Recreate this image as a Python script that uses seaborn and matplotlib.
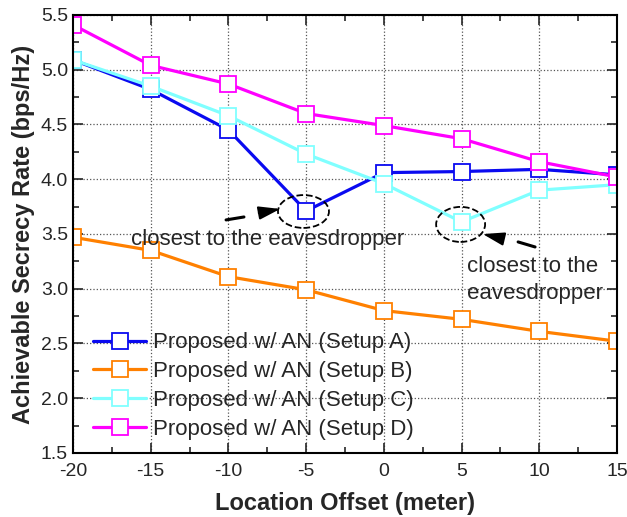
import pandas as pd
import matplotlib
matplotlib.use('Agg')
import matplotlib.pyplot as plt
from matplotlib.patches import Ellipse
import seaborn as sns

# data
offset = [-20, -15, -10, -5, 0, 5, 10, 15]
setup_a = [5.09, 4.82, 4.45, 3.71, 4.06, 4.07, 4.09, 4.04]
setup_b = [3.47, 3.35, 3.11, 2.99, 2.80, 2.72, 2.61, 2.52]
setup_c = [5.09, 4.85, 4.58, 4.23, 3.96, 3.61, 3.90, 3.95]
setup_d = [5.41, 5.04, 4.87, 4.60, 4.49, 4.37, 4.16, 4.02]
labels = ['Proposed w/ AN (Setup A)', 'Proposed w/ AN (Setup B)',
          'Proposed w/ AN (Setup C)', 'Proposed w/ AN (Setup D)']
colors = ['#0a0af0', '#ff8000', '#80ffff', '#ff00ff']

sns.set_style('ticks')
plt.rcParams['font.family'] = ['Liberation Sans', 'DejaVu Sans']
plt.rcParams['axes.unicode_minus'] = False

fig = plt.figure(figsize=(6.27, 5.17), dpi=100)
ax = fig.add_axes([0.1164, 0.124, 0.8676, 0.847])

for vals, lab, col in zip([setup_a, setup_b, setup_c, setup_d], labels, colors):
    df = pd.DataFrame({'offset': offset, 'rate': vals})
    sns.lineplot(data=df, x='offset', y='rate', ax=ax, color=col, label=lab,
                 marker='s', markersize=12, markerfacecolor='white',
                 markeredgecolor=col, markeredgewidth=1.3, linewidth=2.3)

ax.set_xlim(-20, 15)
ax.set_ylim(1.5, 5.5)
ax.set_xticks(range(-20, 16, 5))
ax.set_xticks([x + 2.5 for x in range(-20, 15, 5)], minor=True)
ax.set_yticks([1.5 + 0.5 * i for i in range(9)])
ax.set_yticks([1.75 + 0.5 * i for i in range(8)], minor=True)
ax.set_yticklabels(['%.1f' % (1.5 + 0.5 * i) for i in range(9)])
ax.tick_params(which='both', direction='in', top=True, right=True, labelsize=14, width=1.2)
ax.tick_params(which='major', length=7)
ax.tick_params(which='minor', length=4)
ax.tick_params(axis='x', pad=7)
ax.grid(True, which='major', linestyle=':', color='#555555', linewidth=0.9)
for sp in ax.spines.values():
    sp.set_linewidth(1.5)
    sp.set_color('black')

ax.set_xlabel('Location Offset (meter)', fontsize=17, fontweight='bold', labelpad=9)
ax.set_ylabel('Achievable Secrecy Rate (bps/Hz)', fontsize=17, fontweight='bold', labelpad=4)

# annotations
ax.add_patch(Ellipse((-5.17, 3.705), 3.28, 0.30, fill=False, linestyle='--', color='black', linewidth=1.3, zorder=5))
ax.add_patch(Ellipse((4.94, 3.587), 3.15, 0.32, fill=False, linestyle='--', color='black', linewidth=1.3, zorder=5))
ax.plot([-10.15, -9.0], [3.628, 3.655], color='black', linewidth=2.2)
ax.annotate('', xy=(-6.49, 3.733), xytext=(-8.22, 3.687),
            arrowprops=dict(arrowstyle='-|>,head_length=1.3,head_width=0.4', color='black', linewidth=1.5))
ax.plot([9.73, 8.64], [3.381, 3.427], color='black', linewidth=2.2)
ax.annotate('', xy=(6.19, 3.505), xytext=(7.73, 3.454),
            arrowprops=dict(arrowstyle='-|>,head_length=1.3,head_width=0.4', color='black', linewidth=1.5))
ax.text(-7.45, 3.45, 'closest to the eavesdropper', fontsize=16, ha='center', va='center')
ax.text(5.35, 3.08, 'closest to the\neavesdropper', fontsize=16, ha='left', va='center', linespacing=1.4)

ax.legend(loc='lower left', bbox_to_anchor=(0.037, 0.03), frameon=False, fontsize=16,
          borderaxespad=0, borderpad=0, handlelength=2.4, handletextpad=0.3, labelspacing=0.35)

fig.savefig('out.png', dpi=100)
